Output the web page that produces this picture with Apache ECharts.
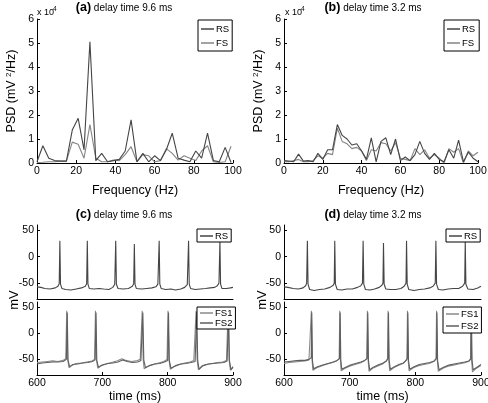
<!DOCTYPE html>
<html><head><meta charset="utf-8">
<script src="https://cdn.jsdelivr.net/npm/echarts@6/dist/echarts.min.js"></script>
<style>html,body{margin:0;padding:0;background:#fff}#c{width:488px;height:403px}</style>
</head><body><div id="c"></div>
<script>
// ---------- data ----------
const freqA = [0,3,6,9,12,15,18,21,24,27,30,33,36,39,42,45,48,51,54,57,60,63,66,69,72,75,78,81,84,87,90,93,96,99];
const rsPsdA = [0.05,0.72,0.2,0.1,0.08,0.08,1.37,1.86,0.55,5.05,0.1,0.4,0.05,0.1,0.15,0.5,1.8,0.05,0.4,0.05,0.3,0.1,0.55,1.24,0.2,0.12,0.05,0.5,0.2,1.24,0.1,0.05,0.65,0.02];
const fsPsdA = [0.02,0.03,0.05,0.05,0.08,0.08,0.87,0.78,0.2,1.6,0.2,0.05,0.05,0.12,0.1,0.35,0.68,0.05,0.35,0.3,0.05,0.1,0.6,0.4,0.12,0.3,0.2,0.1,0.5,0.72,0.05,0.02,0.05,0.7];
const freqB = [0,2.5,5,7.5,10,12.5,15,17.5,20,22.5,25,27.5,30,32.5,35,37.5,40,42.5,45,47.5,50,52.5,55,57.5,60,62.5,65,67.5,70,72.5,75,77.5,80,82.5,85,87.5,90,92.5,95,97.5,100];
const rsPsdB = [0.1,0.08,0.05,0.37,0.08,0.1,0.05,0.4,0.15,0.55,0.55,1.6,1.15,1.0,0.75,0.8,0.5,0.15,1.05,0.05,0.9,1.05,0.35,1.0,0.1,0.25,0.1,0.35,0.9,0.4,0.15,0.4,0.15,0.05,0.55,0.2,0.95,0.05,0.45,0.2,0.05];
const fsPsdB = [0.05,0.05,0.1,0.15,0.05,0.05,0.1,0.3,0.2,0.4,0.35,1.45,0.9,0.8,0.6,0.65,0.5,0.1,0.55,0.5,0.85,0.8,0.5,0.85,0.2,0.15,0.1,0.6,0.35,0.55,0.2,0.35,0.2,0.0,0.6,0.45,0.6,0.0,0.5,0.3,0.45];
const freqTicks = [0,20,40,60,80,100];
const psdTicks = [0,1,2,3,4,5,6];
const timeTicks = [600,700,800,900];
const mvTicks = [-50,0,50];

const rsTraceC = [[600,-57],[606,-58],[612,-60],[620,-61],[628,-59],[632,-56],[634,-51],[635,30],[636,-52],[638,-60],[644,-62],[652,-63],[660,-61],[668,-59],[674,-56],[676,-51],[677,30],[678,-52],[680,-60],[687,-61],[695,-60],[702,-61],[710,-62],[716,-58],[719,-52],[720.5,30],[721.5,-52],[724,-60],[732,-61],[740,-60],[746,-56],[748,-51],[749,24],[750,-52],[752,-60],[760,-61],[768,-60],[776,-59],[782,-57],[785,-52],[787,30],[788,-52],[790,-60],[797,-62],[805,-61],[812,-63],[820,-61],[826,-58],[830,-53],[832,30],[833,-52],[835,-60],[842,-62],[850,-61],[858,-60],[865,-59],[872,-58],[876,-55],[878.5,-50],[880,30],[881,-52],[883,-60],[890,-60],[896,-59],[900,-58]];
const fs1TraceC = [[600,-56],[608,-55],[616,-54],[624,-53],[632,-54],[640,-52],[644,-49],[645.5,43],[647,-50],[649,-66],[653,-62],[660,-58],[668,-57],[676,-55],[684,-53],[688,-50],[689.5,43],[691,-50],[693,-67],[698,-62],[706,-59],[714,-56],[722,-53],[730,-49],[736,-52],[744,-54],[752,-53],[758,-50],[761,43],[762.5,-50],[764,-68],[770,-63],[778,-60],[786,-57],[794,-54],[799,-50],[800.5,43],[802,-50],[804,-69],[810,-64],[818,-60],[826,-57],[834,-55],[840,-52],[843.5,43],[845,-50],[847,-70],[852,-63],[860,-60],[868,-58],[876,-56],[884,-55],[890,-52],[892.5,43],[894,-50],[896,-71],[900,-66]];
const fs2TraceC = [[600,-59],[608,-57],[616,-56],[624,-55],[632,-55],[640,-54],[645,-50],[646.3,40],[647.5,-52],[650,-64],[655,-60],[662,-59],[670,-57],[678,-56],[685,-54],[689,-51],[690.3,40],[691.5,-52],[694,-65],[700,-61],[708,-58],[716,-57],[724,-55],[731,-51],[738,-54],[746,-56],[754,-55],[759,-52],[762,40],[763.5,-52],[766,-66],[772,-62],[780,-59],[788,-58],[795,-55],[800,-52],[801.3,40],[802.5,-52],[805,-67],[812,-62],[820,-59],[828,-58],[836,-56],[842,-54],[844.5,41],[846,-52],[848,-69],[854,-62],[862,-59],[870,-58],[878,-57],[886,-56],[891,-53],[893.3,41],[894.5,-52],[897,-70],[900,-64]];
const rsTraceD = [[600,-57],[606,-58],[614,-60],[622,-61],[629,-59],[633,-55],[634.5,-50],[635.6,30],[636.6,-52],[639,-62],[646,-64],[654,-62],[662,-61],[670,-58],[675,-54],[676.5,-50],[677.3,30],[678.3,-52],[681,-62],[688,-63],[696,-61],[704,-61],[712,-58],[717,-55],[719.5,-50],[720.5,30],[721.5,-52],[724,-62],[731,-63],[738,-61],[745,-58],[749,-54],[750.7,-50],[751.5,26],[752.5,-52],[755,-61],[762,-62],[770,-62],[778,-60],[783,-56],[785.8,-50],[786.6,30],[787.6,-52],[790,-62],[798,-64],[806,-62],[814,-61],[822,-59],[827,-56],[830.3,-50],[831.3,30],[832.3,-52],[835,-62],[842,-63],[850,-61],[858,-60],[866,-60],[872,-56],[875.2,-50],[876,30],[877,-52],[880,-61],[888,-62],[895,-59],[900,-56]];
const fs1TraceD = [[600,-58],[608,-56],[616,-55],[624,-54],[632,-53],[638,-51],[641,-48],[641.7,43],[642.7,-50],[644,-71],[650,-66],[658,-62],[666,-59],[674,-56],[680,-53],[684,-49],[684.9,43],[685.9,-50],[687,-72],[693,-67],[700,-63],[708,-60],[716,-57],[722,-53],[726,-49],[727,43],[728,-50],[729.5,-73],[735,-67],[742,-63],[750,-59],[755,-54],[757.7,-49],[758.5,43],[759.5,-50],[761,-72],[767,-66],[774,-62],[781,-58],[785,-53],[787.2,-49],[788,43],[789,-50],[790.5,-72],[797,-66],[805,-62],[813,-60],[821,-58],[828,-54],[831.5,-49],[832.3,43],[833.3,-50],[835,-73],[842,-67],[850,-63],[858,-61],[866,-59],[874,-57],[881,-54],[884,-49],[884.7,43],[885.7,-50],[887,-74],[893,-67],[900,-62]];
const fs2TraceD = [[600,-55],[608,-54],[616,-53],[624,-52],[632,-52],[638,-50],[641.5,-47],[642.3,40],[643.3,-52],[645,-68],[651,-64],[659,-61],[667,-58],[675,-55],[681,-52],[684.6,-48],[685.5,40],[686.5,-52],[688,-69],[694,-65],[701,-61],[709,-58],[717,-55],[723,-52],[726.6,-48],[727.6,40],[728.6,-52],[730.5,-70],[736,-65],[743,-61],[751,-57],[756,-53],[758.3,-48],[759.1,40],[760.1,-52],[762,-69],[768,-64],[775,-60],[782,-57],[786,-52],[787.8,-48],[788.6,40],[789.6,-52],[791.5,-69],[798,-64],[806,-60],[814,-58],[822,-56],[829,-53],[832.1,-48],[832.9,40],[833.9,-52],[836,-70],[843,-65],[851,-61],[859,-59],[867,-57],[875,-55],[882,-53],[884.6,-49],[885.4,38],[886.4,-52],[888,-70],[894,-65],[900,-60]];

// ---------- chart ----------
const F = '"Liberation Sans", Arial, Helvetica, sans-serif';
const RS_C = '#454545', FS_C = '#858585', FS1_C = '#8a8a8a', FS2_C = '#5e5e5e';
const pair = (xs, ys) => xs.map((x, i) => [x, ys[i]]);

const grids = [
  {left: 37, top: 19, width: 196, height: 144},
  {left: 284, top: 19, width: 194, height: 144},
  {left: 37, top: 225, width: 196, height: 74},
  {left: 37, top: 302, width: 196, height: 73},
  {left: 284, top: 225, width: 197, height: 74},
  {left: 284, top: 302, width: 197, height: 73}
].map(g => Object.assign({containLabel: false, outerBoundsMode: 'none'}, g));

const axLine = {show: true, onZero: false, lineStyle: {color: '#000', width: 1}};
const lbl = {color: '#000', fontSize: 10.5, fontFamily: F, margin: 3};

function psdX(i) {
  return {type: 'value', gridIndex: i, min: 0, max: 100,
    axisLine: axLine, splitLine: {show: false},
    axisTick: {inside: true, length: 3, customValues: freqTicks},
    axisLabel: Object.assign({customValues: freqTicks}, lbl),
    name: 'Frequency (Hz)', nameLocation: 'middle', nameGap: 21,
    nameTextStyle: {fontSize: 12.5, fontFamily: F, color: '#000'}};
}
function psdY(i) {
  return {type: 'value', gridIndex: i, min: 0, max: 6,
    axisLine: axLine, splitLine: {show: false},
    axisTick: {inside: true, length: 3, customValues: psdTicks},
    axisLabel: Object.assign({customValues: psdTicks}, lbl),
    name: 'PSD (mV {s|2}/Hz)', nameLocation: 'middle', nameGap: 19,
    nameTextStyle: {fontSize: 12.5, fontFamily: F, color: '#000',
      rich: {s: {fontSize: 8, fontFamily: F, color: '#000', verticalAlign: 'top', lineHeight: 8}}}};
}
function tX(i, withLabels) {
  const a = {type: 'value', gridIndex: i, min: 600, max: 900,
    axisLine: axLine, splitLine: {show: false},
    axisTick: {show: withLabels, inside: true, length: 3, customValues: timeTicks},
    axisLabel: Object.assign({show: withLabels, customValues: timeTicks}, lbl)};
  if (withLabels) {
    a.name = 'time (ms)'; a.nameLocation = 'middle'; a.nameGap = 15;
    a.nameTextStyle = {fontSize: 12.5, fontFamily: F, color: '#000'};
  }
  return a;
}
function tY(i) {
  return {type: 'value', gridIndex: i, min: -80, max: 60,
    axisLine: axLine, splitLine: {show: false},
    axisTick: {inside: true, length: 3, customValues: mvTicks},
    axisLabel: Object.assign({customValues: mvTicks}, lbl)};
}

function ln(name, data, idx, color) {
  return {type: 'line', name: name, data: data, xAxisIndex: idx, yAxisIndex: idx,
    showSymbol: false, symbol: 'none', clip: true, animation: false,
    lineStyle: {color: color, width: 1.1}, itemStyle: {color: color}};
}
function lg(names, left, top, pad, gap) {
  return {data: names, left: left, top: top, orient: 'vertical',
    backgroundColor: '#fff', borderColor: '#000', borderWidth: 1, borderRadius: 0,
    padding: pad, itemGap: gap, itemWidth: 13, itemHeight: 1.5, icon: 'rect',
    selectedMode: false,
    textStyle: {fontSize: 9.5, color: '#000', fontFamily: F, lineHeight: 10, padding: [0, 0, 0, -3]}};
}
function title(bold, rest, x, y) {
  return {type: 'text', style: {
    text: '{b|' + bold + '} ' + rest, x: x, y: y, align: 'center', verticalAlign: 'middle',
    fontSize: 10, fontFamily: F, fill: '#000',
    rich: {b: {fontSize: 12.5, fontWeight: 'bold', fontFamily: F, fill: '#000'}}}};
}
function txt(t, x, y, size) {
  return {type: 'text', style: {text: t, x: x, y: y, fontSize: size, fontFamily: F, fill: '#000', align: 'left', verticalAlign: 'middle'}};
}

const option = {
  backgroundColor: '#fff',
  animation: false,
  grid: grids,
  xAxis: [psdX(0), psdX(1), tX(2, false), tX(3, true), tX(4, false), tX(5, true)],
  yAxis: [psdY(0), psdY(1), tY(2), tY(3), tY(4), tY(5)],
  legend: [
    lg(['RS', 'FS'], 198, 20, [4, 3, 3, 3], 4),
    lg(['RS', 'FS'], 444, 20, [4, 4, 3, 3], 4),
    lg(['RS'], 197, 229, [2, 3, 1, 3], 0),
    lg(['FS1', 'FS2'], 197, 307, [1, 3, 1, 3], 0),
    lg(['RS'], 446, 229, [2, 3, 1, 3], 0),
    lg(['FS1', 'FS2'], 443, 307, [2, 3, 2, 3], 2)
  ],
  series: [
    ln('FS', pair(freqA, fsPsdA), 0, FS_C),
    ln('RS', pair(freqA, rsPsdA), 0, RS_C),
    ln('FS', pair(freqB, fsPsdB), 1, FS_C),
    ln('RS', pair(freqB, rsPsdB), 1, RS_C),
    ln('RS', rsTraceC, 2, RS_C),
    ln('FS1', fs1TraceC, 3, FS1_C),
    ln('FS2', fs2TraceC, 3, FS2_C),
    ln('RS', rsTraceD, 4, RS_C),
    ln('FS1', fs1TraceD, 5, FS1_C),
    ln('FS2', fs2TraceD, 5, FS2_C)
  ],
  graphic: [
    title('(a)', 'delay time 9.6 ms', 124, 8),
    title('(b)', 'delay time 3.2 ms', 373, 8),
    title('(c)', 'delay time 9.6 ms', 124, 215),
    title('(d)', 'delay time 3.2 ms', 373, 215),
    txt('x 10', 37, 13, 9),
    txt('4', 53, 9, 6.5),
    txt('x 10', 285, 13, 9),
    txt('4', 301, 9, 6.5),
    {type: 'text', rotation: Math.PI / 2, x: 14, y: 300, style: {text: 'mV', x: 0, y: 0, fontSize: 13, fontFamily: F, fill: '#000', align: 'center', verticalAlign: 'middle'}},
    {type: 'text', rotation: Math.PI / 2, x: 262, y: 300, style: {text: 'mV', x: 0, y: 0, fontSize: 13, fontFamily: F, fill: '#000', align: 'center', verticalAlign: 'middle'}}
  ]
};
const chart = echarts.init(document.getElementById('c'), null, {renderer: 'canvas'});
chart.setOption(option);
</script></body></html>
